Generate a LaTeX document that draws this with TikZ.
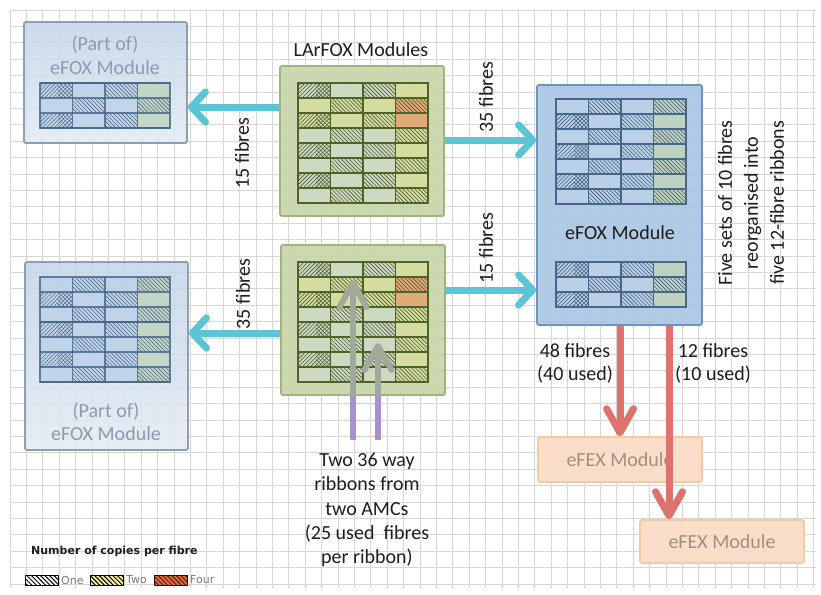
\documentclass[tikz,border=0pt]{standalone}
\usepackage{fontspec}
\setmainfont{Carlito}
\newfontfamily\legfont{DejaVu Sans}
\usetikzlibrary{arrows.meta,patterns.meta,calc}
\definecolor{gridc}{HTML}{D6D6D6}
\definecolor{cyanA}{HTML}{5DC3D6}
\definecolor{redA}{HTML}{DE736E}
\definecolor{purA}{HTML}{A792CF}
\definecolor{grayA}{HTML}{A3A89C}
\definecolor{larFill}{HTML}{C6D4A6}
\definecolor{larDraw}{HTML}{A1B47E}
\definecolor{larLine}{HTML}{4F6228}
\definecolor{gL}{HTML}{CFD9C3}
\definecolor{gY}{HTML}{D5DE9E}
\definecolor{gO}{HTML}{E3A775}
\definecolor{bigFill}{HTML}{A9C5E3}
\definecolor{bigDraw}{HTML}{6C94BE}
\definecolor{bLine}{HTML}{46668A}
\definecolor{bL}{HTML}{BBD1E8}
\definecolor{bY}{HTML}{BFD3BF}
\definecolor{fadeTop}{HTML}{C3D5E9}
\definecolor{fadeBot}{HTML}{E3EAF2}
\definecolor{fadeDraw}{HTML}{8497AC}
\definecolor{fadeText}{HTML}{8D9BAA}
\definecolor{efexFill}{HTML}{FADCC5}
\definecolor{efexDraw}{HTML}{F3C9A6}
\definecolor{efexText}{HTML}{A48E80}
\definecolor{hatchG}{HTML}{3F4F2A}
\definecolor{hatchB}{HTML}{34506E}
\definecolor{txt}{HTML}{1E1E1E}
\definecolor{legTxt}{HTML}{7A7A7A}
\definecolor{swTwo}{HTML}{F4EE9A}
\definecolor{swFour}{HTML}{E86A34}

% cells: x0, y0, palette prefix, hatch colour, rows
\newcommand{\mycells}[5]{%
  \foreach \rw [count=\r from 0] in {#5} {
    \foreach \h/\c [count=\k from 0] in \rw {
      \edef\cc{#3\c}%
      \path[fill=\cc] ({#1+\k*32.5},{#2+\r*15}) rectangle ++(32.5,15);
      \if B\h
        \path[pattern={Lines[angle=-45,distance=2.8pt,line width=0.6pt]},pattern color=#4]
          ({#1+\k*32.5},{#2+\r*15}) rectangle ++(32.5,15);
      \fi
      \if X\h
        \path[pattern={Lines[angle=45,distance=2.8pt,line width=0.6pt]},pattern color=#4]
          ({#1+\k*32.5},{#2+\r*15}) rectangle ++(18,15);
        \path[pattern={Lines[angle=45,distance=2.8pt,line width=0.5pt]},pattern color=#4]
          ({#1+\k*32.5+18},{#2+\r*15}) rectangle ++(14.5,15);
        \path[pattern={Lines[angle=-45,distance=2.8pt,line width=0.5pt]},pattern color=#4]
          ({#1+\k*32.5+18},{#2+\r*15}) rectangle ++(14.5,15);
      \fi
    }
  }
}
% lines: x0, y0, nrows, colour, thick row index
\newcommand{\mylines}[5]{%
  \foreach \i in {1,...,#3} {\draw[#4,line width=1.2pt] (#1,{#2+\i*15}) -- ++(130,0);}
  \foreach \k in {1,2,3} {\draw[#4,line width=1.2pt] ({#1+\k*32.5},#2) -- ++(0,{#3*15});}
  \draw[#4,line width=2.6pt] (#1,{#2+#5*15}) -- ++(130,0);
  \draw[#4,line width=2.6pt] (#1,#2) rectangle ++(130,{#3*15});
}

\begin{document}
\begin{tikzpicture}[x=1pt,y=-1pt,
  lbl/.style={text=txt,font=\fontsize{20}{24.5}\selectfont,inner sep=1pt},
  fadebox/.style={draw=fadeDraw,line width=1.8pt,top color=fadeTop,bottom color=fadeBot,
     fill opacity=0.85,draw opacity=0.9,rounded corners=2pt,inner sep=0pt},
  fadetext/.style={text=fadeText,font=\fontsize{20}{24}\selectfont,inner sep=0pt},
  larbox/.style={draw=larDraw,line width=1.8pt,fill=larFill,fill opacity=0.88,rounded corners=2pt,inner sep=0pt},
  bigbox/.style={draw=bigDraw,line width=1.8pt,fill=bigFill,fill opacity=0.9,rounded corners=2pt,inner sep=0pt},
  efexbox/.style={draw=efexDraw,line width=1.6pt,fill=efexFill,fill opacity=0.92,text opacity=1,
     rounded corners=2pt,text=efexText,font=\fontsize{20}{24}\selectfont,inner sep=0pt},
  cyanarrow/.style={draw=cyanA,line width=7pt,-{Straight Barb[length=14pt,width=30pt,line width=7pt,round]}},
  redarrow/.style={draw=redA,line width=7pt,-{Straight Barb[length=24pt,width=27pt,line width=7pt,round]}},
  purline/.style={draw=purA,line width=6pt},
  grayarrow/.style={draw=grayA,line width=6pt,-{Straight Barb[length=24pt,width=27pt,line width=6pt,round]}},
  swatch/.style={draw=black,line width=1pt,minimum width=33pt,minimum height=10pt,inner sep=0pt},
  legtext/.style={text=legTxt,font=\legfont\fontsize{11}{12}\selectfont,inner sep=2.5pt,anchor=west}
]
\useasboundingbox (0,0) rectangle (821,594);
\fill[white] (0,0) rectangle (821,594);
% background grid
\foreach \i in {0,...,49} {\draw[gridc,line width=0.8pt] ({10+\i*16.4},10) -- ({10+\i*16.4},588);}
\foreach \j in {0,...,35} {\draw[gridc,line width=0.8pt] (10,{10+\j*16.4}) -- (816,{10+\j*16.4});}

% ribbons
\coordinate (ribA) at (353,440);
\coordinate (ribB) at (378,440);
\coordinate (tipA) at (353,280);
\coordinate (tipB) at (378,343);

% boxes
\node[fadebox,minimum width=163pt,minimum height=121pt] (efoxTL) at (105.5,82.5) {};
\node[fadebox,minimum width=163pt,minimum height=188pt] (efoxBL) at (106.5,356) {};
\node[larbox,minimum width=164pt,minimum height=150pt] (larA) at (362,141) {};
\node[larbox,minimum width=164pt,minimum height=150pt] (larB) at (363,320) {};
\node[bigbox,minimum width=165pt,minimum height=240pt] (efoxBig) at (619.5,205) {};
\node[efexbox,minimum width=164pt,minimum height=45pt] (efexA) at (620,459.5) {eFEX Module};
\node[efexbox,minimum width=164pt,minimum height=43pt] (efexB) at (722,541.5) {eFEX Module};

% cell grids
\begin{scope}[opacity=0.8]
\mycells{40}{83}{b}{hatchB}{{X/L,P/L,B/L,P/Y},{P/L,B/L,P/L,B/Y},{X/L,P/L,B/L,P/Y}}
\mylines{40}{83}{3}{bLine}{0}
\mycells{40}{277}{b}{hatchB}{{P/L,B/L,P/L,B/Y},{X/L,P/L,B/L,P/Y},{P/L,B/L,P/L,B/Y},{X/L,P/L,B/L,P/Y},{P/L,B/L,P/L,B/Y},{X/L,P/L,B/L,P/Y},{P/L,B/L,P/L,B/Y}}
\mylines{40}{277}{7}{bLine}{3}
\end{scope}
\begin{scope}[opacity=0.92]
\mycells{298}{83}{g}{hatchG}{{X/L,P/L,B/L,P/Y},{P/Y,B/Y,P/Y,B/O},{X/Y,P/Y,B/Y,P/O},{P/L,B/L,P/L,B/Y},{X/L,P/L,B/L,P/Y},{P/L,B/L,P/L,B/Y},{X/L,P/L,B/L,P/Y},{P/L,B/L,P/L,B/Y}}
\mycells{298}{262}{g}{hatchG}{{X/L,P/L,B/L,P/Y},{P/Y,B/Y,P/Y,B/O},{X/Y,P/Y,B/Y,P/O},{P/L,B/L,P/L,B/Y},{X/L,P/L,B/L,P/Y},{P/L,B/L,P/L,B/Y},{X/L,P/L,B/L,P/Y},{P/L,B/L,P/L,B/Y}}
\mycells{556}{99}{b}{hatchB}{{P/L,B/L,P/L,B/Y},{X/L,P/L,B/L,P/Y},{P/L,B/L,P/L,B/Y},{X/L,P/L,B/L,P/Y},{P/L,B/L,P/L,B/Y},{X/L,P/L,B/L,P/Y},{P/L,B/L,P/L,B/Y}}
\mycells{556}{262}{b}{hatchB}{{X/L,P/L,B/L,P/Y},{P/L,B/L,P/L,B/Y},{X/L,P/L,B/L,P/Y}}
\end{scope}
\mylines{298}{83}{8}{larLine}{4}
\mylines{298}{262}{8}{larLine}{4}
\mylines{556}{99}{7}{bLine}{3}
\mylines{556}{262}{3}{bLine}{0}

% texts in boxes
\node[fadetext] (tlA) at (105,45) {(Part of)};
\node[fadetext] (tlB) at (105,68) {eFOX Module};
\node[fadetext] (blA) at (106,412) {(Part of)};
\node[fadetext] (blB) at (106,434) {eFOX Module};
\node[lbl] (bigT) at (620,233) {eFOX Module};
\node[lbl] (larT) at (361,50) {LArFOX Modules};

% ribbons into LArFOX
\draw[purline] (ribA) -- (ribA |- larB.south);
\draw[purline] (ribB) -- (ribB |- larB.south);
\draw[grayarrow] (ribA |- larB.south) -- (tipA);
\draw[grayarrow] (ribB |- larB.south) -- (tipB);

% cyan connectors
\draw[cyanarrow] (larA.west |- 0,107) -- (efoxTL.east |- 0,107);
\draw[cyanarrow] (larA.east |- 0,140) -- (efoxBig.west |- 0,140);
\draw[cyanarrow] (larB.east |- 0,290) -- (efoxBig.west |- 0,290);
\draw[cyanarrow] (larB.west |- 0,333) -- (efoxBL.east |- 0,333);

% red connectors
\draw[redarrow] (efoxBig.south -| 620,0) -- (efexA.north -| 620,0);
\draw[redarrow] (efoxBig.south -| 669,0) -- (efexB.north -| 669,0);

% labels
\node[lbl,rotate=90] (f15a) at (242,153) {15 fibres};
\node[lbl,rotate=90] (f35a) at (486,97) {35 fibres};
\node[lbl,rotate=90] (f15b) at (486,248) {15 fibres};
\node[lbl,rotate=90] (f35b) at (243,294) {35 fibres};
\node[lbl,rotate=90,align=center,font=\fontsize{20}{26}\selectfont] (five) at (751,203)
  {Five sets of 10 fibres\\reorganised into\\five 12-fibre ribbons};
\node[lbl,align=center,font=\fontsize{20}{23}\selectfont] (f48) at (575,363) {48 fibres\\(40 used)};
\node[lbl,align=center,font=\fontsize{20}{23}\selectfont] (f12) at (713,363) {12 fibres\\(10 used)};
\node[lbl,align=center,font=\fontsize{20}{24.2}\selectfont] (amc) at (367,510)
  {Two 36 way\\ribbons from\\two AMCs\\(25 used~ fibres\\per ribbon)};

% legend
\node[anchor=west,text=txt,inner sep=0pt,font=\legfont\bfseries\fontsize{11}{12}\selectfont] (legT) at (31,551) {Number of copies per fibre};
\node[swatch,fill=white,postaction={pattern={Lines[angle=-45,distance=3.2pt,line width=1pt]},pattern color=black}] (sw1) at (41.5,580) {};
\node[legtext] (lg1) at (sw1.east) {One};
\node[swatch,fill=swTwo,postaction={pattern={Lines[angle=-45,distance=3.2pt,line width=1pt]},pattern color=black}] (sw2) at (106.5,580) {};
\node[legtext] (lg2) at (sw2.east) {Two};
\node[swatch,fill=swFour,postaction={pattern={Lines[angle=-45,distance=3.2pt,line width=1pt]},pattern color=black!70!swFour}] (sw3) at (170.5,580) {};
\node[legtext] (lg3) at (sw3.east) {Four};
\end{tikzpicture}
\end{document}
